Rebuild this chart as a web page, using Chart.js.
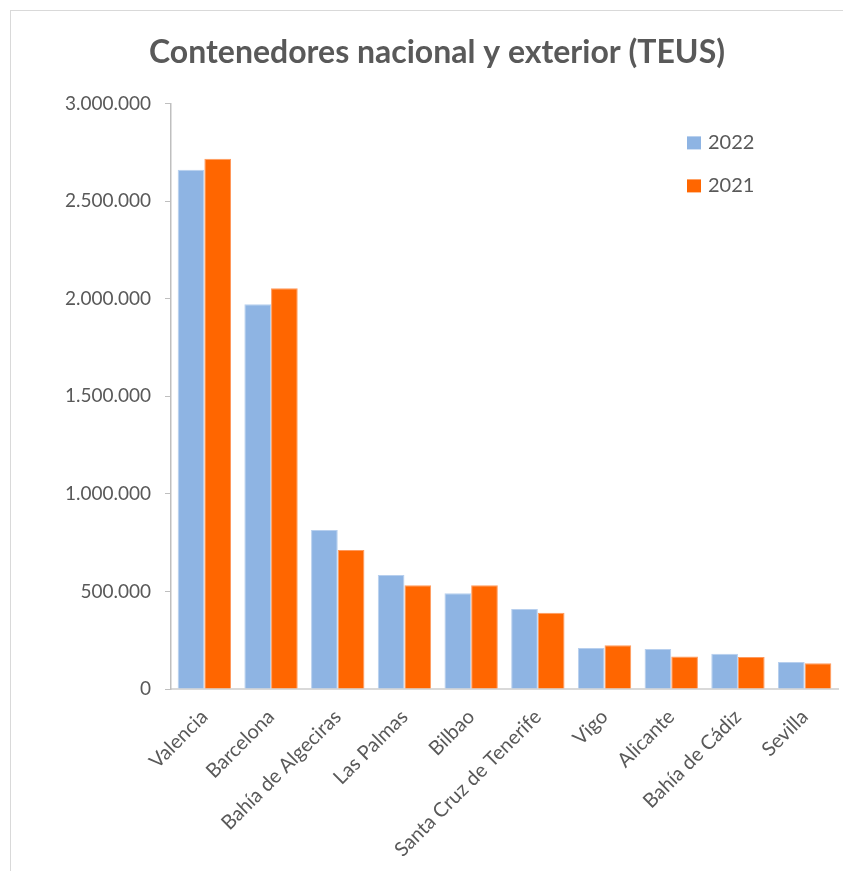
<!DOCTYPE html>
<html>
<head>
<meta charset="utf-8">
<script src="https://cdn.jsdelivr.net/npm/chart.js@4"></script>
<style>
  body { margin: 0; background: #fff; overflow: hidden; }
  #frame { position: absolute; left: 10px; top: 10px; width: 900px; height: 900px; border: 1px solid #d9d9d9; }
  #wrap { position: absolute; left: 0; top: 0; width: 843px; height: 871px; }
</style>
</head>
<body>
<div id="frame"></div>
<div id="wrap"><canvas id="teusChart" width="843" height="871"></canvas></div>
<script>
const ports = ['Valencia', 'Barcelona', 'Bahía de Algeciras', 'Las Palmas', 'Bilbao',
    'Santa Cruz de Tenerife', 'Vigo', 'Alicante', 'Bahía de Cádiz', 'Sevilla'];
const teus2022 = [2660000, 1971000, 814000, 584000, 490000, 410000, 210000, 205000, 181000, 138000];
const teus2021 = [2717000, 2053000, 712000, 531000, 532000, 391000, 224000, 167000, 164000, 132000];
const yTicks = [0, 500000, 1000000, 1500000, 2000000, 2500000, 3000000];

const textColor = '#595959';
const fontFamily = 'Lato, "Open Sans", sans-serif';

function formatThousands(value) {
    return String(value).replace(/\B(?=(\d{3})+(?!\d))/g, '.');
}

// legend drawn inside the plot, top right, like the Excel original
const sideLegend = {
    id: 'sideLegend',
    afterDraw(chart) {
        const ctx = chart.ctx;
        const area = chart.chartArea;
        const x = area.right - 151;
        let y = area.top + 40;
        ctx.save();
        ctx.font = '20px ' + fontFamily;
        ctx.textBaseline = 'middle';
        ctx.textAlign = 'left';
        chart.data.datasets.forEach(ds => {
            ctx.fillStyle = ds.backgroundColor;
            ctx.fillRect(x, y - 7, 14, 13);
            ctx.fillStyle = textColor;
            ctx.fillText(ds.label, x + 21, y - 1);
            y += 43;
        });
        ctx.restore();
    }
};

new Chart(document.getElementById('teusChart'), {
    type: 'bar',
    data: {
        labels: ports,
        datasets: [
            {
                label: '2022',
                data: teus2022,
                backgroundColor: '#8eb4e3',
                borderColor: '#b7cfee',
                borderWidth: 1,
                categoryPercentage: 0.8,
                barPercentage: 1.0
            },
            {
                label: '2021',
                data: teus2021,
                backgroundColor: '#ff6600',
                borderColor: '#ff9a5e',
                borderWidth: 1,
                categoryPercentage: 0.8,
                barPercentage: 1.0
            }
        ]
    },
    options: {
        responsive: false,
        animation: false,
        devicePixelRatio: 1,
        layout: { padding: { top: 0, right: 5, bottom: 0, left: 36 } },
        scales: {
            x: {
                grid: { display: false },
                border: { display: true, color: '#d9d9d9', width: 2 },
                ticks: {
                    color: textColor,
                    font: { family: fontFamily, size: 20 },
                    minRotation: 45,
                    maxRotation: 45,
                    autoSkip: false,
                    padding: 8
                },
                afterFit: scale => { scale.height = 182; }
            },
            y: {
                min: 0,
                max: 3000000,
                grid: {
                    display: true,
                    drawOnChartArea: false,
                    drawTicks: true,
                    tickLength: 6,
                    color: '#bfbfbf'
                },
                border: { display: true, color: '#bfbfbf', width: 1.5 },
                afterBuildTicks: scale => { scale.ticks = yTicks.map(v => ({ value: v })); },
                ticks: {
                    color: textColor,
                    font: { family: fontFamily, size: 19 },
                    padding: 14,
                    callback: value => formatThousands(value)
                },
                afterFit: scale => { scale.width = 135; }
            }
        },
        plugins: {
            legend: { display: false },
            tooltip: { enabled: false },
            title: {
                display: true,
                text: 'Contenedores nacional y exterior (TEUS)',
                color: textColor,
                font: { family: fontFamily, size: 32, weight: 'bold', lineHeight: 1.2 },
                padding: { top: 33, bottom: 32 }
            }
        }
    },
    plugins: [sideLegend]
});
</script>
</body>
</html>
